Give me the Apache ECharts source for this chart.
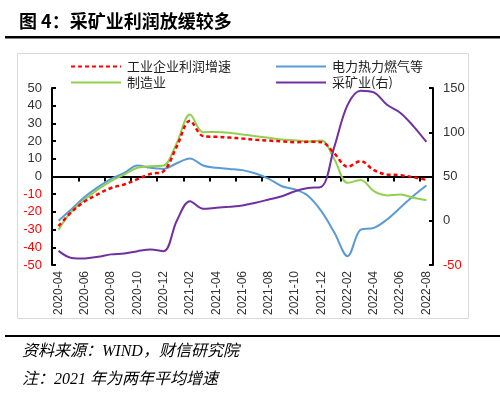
<!DOCTYPE html>
<html>
<head>
<meta charset="utf-8">
<script src="https://cdn.jsdelivr.net/npm/echarts@6/dist/echarts.min.js"></script>
<style>
html,body{margin:0;padding:0;background:#fff;}
#c{width:500px;height:403px;}
</style>
</head>
<body>
<div id="c"></div>
<script>
var categories = ['2020-04','2020-05','2020-06','2020-07','2020-08','2020-09','2020-10','2020-11','2020-12',
  '2021-01','2021-02','2021-03','2021-04','2021-05','2021-06','2021-07','2021-08','2021-09','2021-10','2021-11','2021-12',
  '2022-01','2022-02','2022-03','2022-04','2022-05','2022-06','2022-07','2022-08'];
var industrialProfit = [-28,-20,-14,-10,-6.5,-4.5,-1.5,1.5,3,17,31.5,22.8,22.4,22,21.4,20.8,20.3,19.8,19.4,19.6,19.4,13,5.5,8.7,3.6,1.1,0.8,-0.4,-1.9];
var utilities = [-25,-18.3,-11.5,-6,-1.3,2,6.2,4.9,4.3,7.5,10.2,6.2,4.9,4.3,3.6,1.7,-1.3,-5.5,-7.3,-11,-19.6,-31.8,-45,-30,-29,-24.3,-17.7,-11,-5.1];
var manufacturing = [-30,-19.6,-13,-7.3,-2.6,1.1,4.9,5.8,6.2,19,35,25,25.2,24.7,23.7,22.8,21.9,20.9,20.5,19.8,20.3,9.6,-3.6,-2,-8.3,-10.7,-10.2,-12,-13.4];
var mining = [-34,-42,-42.6,-40.7,-38,-37,-34.4,-32.5,-34.4,0,22,13.5,14.6,15.8,17.2,20.3,24,27.7,33.4,37,38.4,84,131,147,145,131,122,107,89];
var seriesNames = ['工业企业利润增速','电力热力燃气等','制造业','采矿业(右)'];
var titleText = '图 4：采矿业利润放缓较多';
var sourceText = '资料来源：WIND，财信研究院';
var noteText = '注：2021 年为两年平均增速';

var chart = echarts.init(document.getElementById('c'), null, {renderer:'canvas'});
var redNeg = function(v){ return Number(v) < 0 ? '#ff0000' : '#333333'; };
var legendBase = {
  orient: 'vertical', top: 55,
  itemWidth: 50, itemHeight: 12, itemGap: 3,
  itemStyle: {opacity: 0, borderWidth: 0},
  textStyle: {fontSize: 13, color: '#222', fontFamily: 'Noto Sans CJK SC', padding: [0,0,0,1]}
};
var option = {
  animation: false,
  backgroundColor: '#ffffff',
  textStyle: {fontFamily: 'Liberation Sans, Noto Sans CJK SC, sans-serif'},
  grid: {left: 52, right: 67, top: 88, bottom: 138, containLabel: false},
  legend: [
    Object.assign({}, legendBase, {data: [seriesNames[0], seriesNames[2]], left: 65}),
    Object.assign({}, legendBase, {data: [seriesNames[1], seriesNames[3]], left: 270})
  ],
  xAxis: [{
    type: 'category', data: categories, boundaryGap: true,
    axisLine: {show: true, onZero: true, onZeroAxisIndex: 0, lineStyle: {color: '#000', width: 2}},
    axisTick: {show: true, interval: 1, length: 5, lineStyle: {color: '#000', width: 2}},
    axisLabel: {show: false}, splitLine: {show: false}
  },{
    type: 'category', data: categories, boundaryGap: true, position: 'bottom',
    axisLine: {show: false}, axisTick: {show: false},
    axisLabel: {show: true, interval: 1, rotate: 90, fontSize: 12, color: '#333', margin: 6},
    splitLine: {show: false}
  }],
  yAxis: [{
    type: 'value', min: -50, max: 50, interval: 10, position: 'left',
    axisLine: {show: true, lineStyle: {color: '#000', width: 2}},
    axisTick: {show: true, inside: true, length: 4, lineStyle: {color: '#000', width: 2}},
    axisLabel: {fontSize: 13, margin: 10, color: redNeg},
    splitLine: {show: false}
  },{
    type: 'value', min: -50, max: 150, interval: 50, position: 'right',
    axisLine: {show: true, lineStyle: {color: '#000', width: 2}},
    axisTick: {show: true, inside: true, length: 4, lineStyle: {color: '#000', width: 2}},
    axisLabel: {fontSize: 13, margin: 10, color: redNeg},
    splitLine: {show: false}
  }],
  series: [{
    name: seriesNames[0], type: 'line', data: industrialProfit, xAxisIndex: 0, yAxisIndex: 0,
    smooth: 0.35, symbol: 'none', z: 5,
    lineStyle: {color: '#ff0000', width: 2.5, type: [4, 3]}, itemStyle: {color: '#ff0000'}
  },{
    name: seriesNames[1], type: 'line', data: utilities, xAxisIndex: 0, yAxisIndex: 0,
    smooth: 0.35, symbol: 'none',
    lineStyle: {color: '#5b9bd5', width: 2}, itemStyle: {color: '#5b9bd5'}
  },{
    name: seriesNames[2], type: 'line', data: manufacturing, xAxisIndex: 0, yAxisIndex: 0,
    smooth: 0.35, symbol: 'none',
    lineStyle: {color: '#92d050', width: 2}, itemStyle: {color: '#92d050'}
  },{
    name: seriesNames[3], type: 'line', data: mining, xAxisIndex: 0, yAxisIndex: 1,
    smooth: 0.35, symbol: 'none',
    lineStyle: {color: '#7030a0', width: 2}, itemStyle: {color: '#7030a0'}
  }],
  graphic: [
    {type: 'text', left: 19, top: 12, style: {text: titleText, fontSize: 18, fontWeight: 'bold', fill: '#000', fontFamily: 'Noto Sans CJK SC'}},
    {type: 'rect', shape: {x: 5, y: 36, width: 495, height: 2.5}, style: {fill: '#000'}},
    {type: 'rect', shape: {x: 17.5, y: 53.5, width: 451, height: 265}, style: {fill: 'none', stroke: '#d9d9d9', lineWidth: 1}, z: -1},
    {type: 'rect', shape: {x: 5, y: 335, width: 495, height: 2}, style: {fill: '#000'}},
    {type: 'text', left: 22, top: 344, style: {text: sourceText, fontSize: 16, fontStyle: 'italic', fill: '#000', fontFamily: 'Liberation Serif, Noto Sans CJK SC, serif'}},
    {type: 'text', left: 22, top: 372, style: {text: noteText, fontSize: 16, fontStyle: 'italic', fill: '#000', fontFamily: 'Liberation Serif, Noto Sans CJK SC, serif'}}
  ]
};
chart.setOption(option);
</script>
</body>
</html>
